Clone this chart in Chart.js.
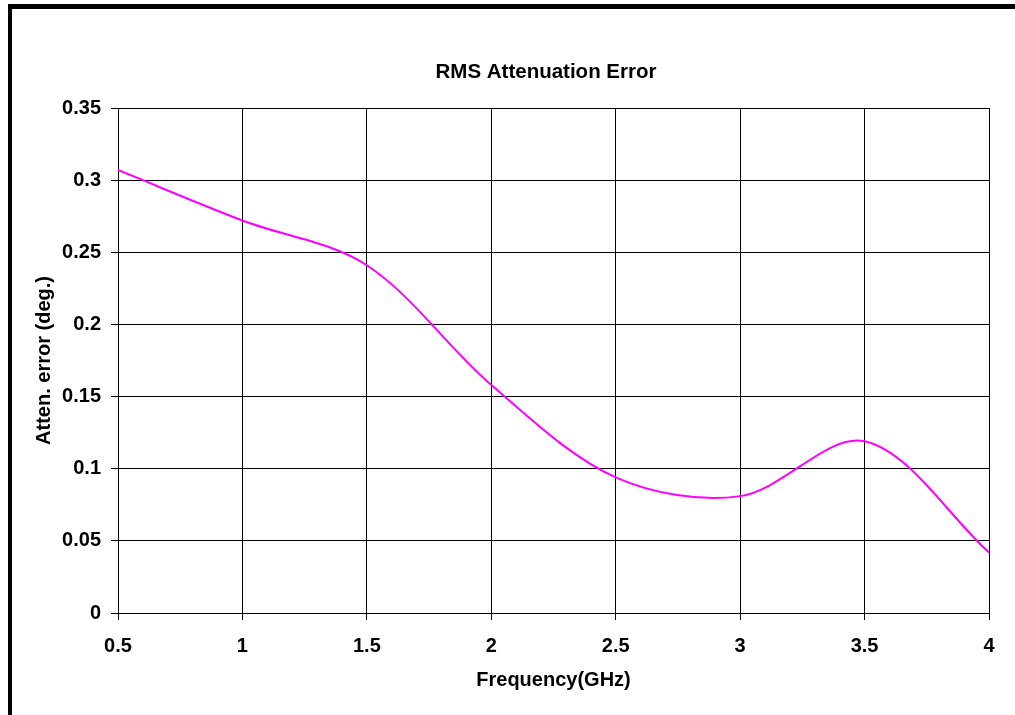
<!DOCTYPE html>
<html>
<head>
<meta charset="utf-8">
<script src="https://cdn.jsdelivr.net/npm/chart.js@4"></script>
<style>
  html, body { margin: 0; padding: 0; background: #fff; overflow: hidden; width: 1015px; height: 715px; }
  #frame { position: absolute; left: 8px; top: 4px; width: 1200px; height: 900px;
           border-left: 4px solid #000; border-top: 5px solid #000; z-index: 0; }
  #c { position: absolute; left: 0; top: 0; z-index: 1; }
</style>
</head>
<body>
<div id="frame"></div>
<canvas id="c" width="1092" height="715"></canvas>
<script>
// ---- data ----
const frequencies = [0.5, 1.0, 1.5, 2.0, 2.5, 3.0, 3.5, 4.0];
const attenError  = [0.307, 0.272, 0.241, 0.158, 0.094, 0.081, 0.119, 0.042];
const yTickLabels = ['0', '0.05', '0.1', '0.15', '0.2', '0.25', '0.3', '0.35'];
const xTickLabels = ['0.5', '1', '1.5', '2', '2.5', '3', '3.5', '4'];
const chartTitle = 'RMS Attenuation Error';
const xTitle = 'Frequency(GHz)';
const yTitle = 'Atten. error (deg.)';

const FONT = '"Liberation Sans", Arial, sans-serif';
const boldFont = (size) => ({ family: FONT, size: size, weight: 'bold', lineHeight: 1.2 });

new Chart(document.getElementById('c'), {
  type: 'line',
  data: {
    datasets: [{
      data: frequencies.map((f, i) => ({ x: f, y: attenError[i] })),
      borderColor: '#FF00FF',
      borderWidth: 2,
      pointRadius: 0,
      fill: false,
      tension: 0.33
    }]
  },
  options: {
    responsive: false,
    animation: false,
    devicePixelRatio: 1,
    layout: { padding: 0 },
    plugins: {
      legend: { display: false },
      tooltip: { enabled: false },
      title: {
        display: true,
        text: chartTitle,
        color: '#000',
        font: boldFont(20.5),
        padding: { top: 60, bottom: 23.4 }
      }
    },
    scales: {
      x: {
        type: 'linear',
        min: 0.5, max: 4,
        ticks: {
          stepSize: 0.5,
          color: '#000',
          font: boldFont(20),
          padding: 14,
          maxRotation: 0,
          autoSkip: false,
          callback: (v) => {
            const i = Math.round((v - 0.5) / 0.5);
            return xTickLabels[i] !== undefined ? xTickLabels[i] : '';
          }
        },
        grid: { color: '#000', lineWidth: 1, tickLength: 7, drawTicks: true },
        border: { display: true, color: '#000', width: 1 },
        title: { display: true, text: xTitle, color: '#000', font: boldFont(20), padding: { top: 23, bottom: 23 } },
        afterFit: (s) => { s.height = 102; }
      },
      y: {
        type: 'linear',
        position: 'left',
        min: 0, max: 0.35,
        ticks: {
          stepSize: 0.05,
          color: '#000',
          font: boldFont(20),
          padding: 10,
          autoSkip: false,
          callback: (v) => {
            const i = Math.round(v / 0.05);
            return yTickLabels[i] !== undefined ? yTickLabels[i] : '';
          }
        },
        grid: { color: '#000', lineWidth: 1, tickLength: 7, drawTicks: true },
        border: { display: true, color: '#000', width: 1 },
        title: { display: true, text: yTitle, color: '#000', font: boldFont(20), padding: { top: 32, bottom: 32 } },
        afterFit: (s) => { s.width = 118; }
      },
      spacer: {
        type: 'linear',
        position: 'right',
        display: true,
        min: 0, max: 1,
        ticks: { display: false },
        grid: { display: false, drawTicks: false },
        border: { display: false },
        title: { display: false },
        afterFit: (s) => { s.width = 103; }
      }
    }
  }
});
</script>
</body>
</html>
